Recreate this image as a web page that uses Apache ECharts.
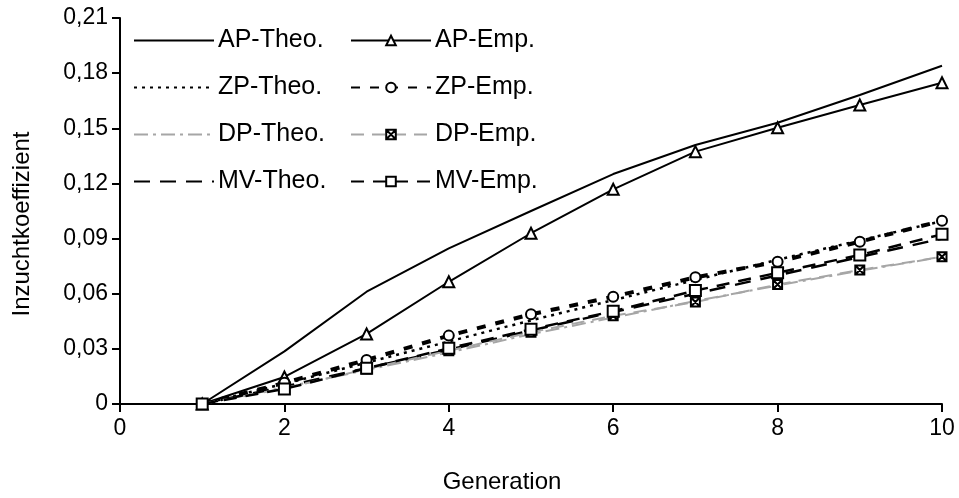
<!DOCTYPE html>
<html>
<head>
<meta charset="utf-8">
<script src="https://cdn.jsdelivr.net/npm/echarts@6/dist/echarts.min.js"></script>
<style>html,body{margin:0;padding:0;background:#fff;}#c{width:959px;height:498px;}</style>
</head>
<body>
<div id="c"></div>
<script>
const generations = [1, 2, 3, 4, 5, 6, 7, 8, 9, 10];
const apTheo = [0, 0.0286, 0.0611, 0.0847, 0.1050, 0.1251, 0.1409, 0.1530, 0.1681, 0.1840];
const apEmp  = [0, 0.0147, 0.0381, 0.0665, 0.0929, 0.1168, 0.1373, 0.1503, 0.1627, 0.1748];
const zpTheo = [0, 0.0110, 0.0225, 0.0340, 0.0455, 0.0565, 0.0675, 0.0785, 0.0890, 0.0995];
const zpEmp  = [0, 0.0115, 0.0240, 0.0372, 0.0488, 0.0584, 0.0689, 0.0774, 0.0883, 0.0997];
const dpTheo = [0, 0.0090, 0.0185, 0.0280, 0.0380, 0.0470, 0.0560, 0.0645, 0.0725, 0.0800];
const dpEmp  = [0, 0.0085, 0.0190, 0.0290, 0.0390, 0.0480, 0.0555, 0.0650, 0.0729, 0.0801];
const mvTheo = [0, 0.0095, 0.0195, 0.0295, 0.0400, 0.0500, 0.0600, 0.0700, 0.0800, 0.0900];
const mvEmp  = [0, 0.0082, 0.0194, 0.0303, 0.0406, 0.0505, 0.0617, 0.0714, 0.0811, 0.0923];
const xTicks = [0, 2, 4, 6, 8, 10];
const yTicks = ['0', '0,03', '0,06', '0,09', '0,12', '0,15', '0,18', '0,21'];
const xTitle = 'Generation';
const yTitle = 'Inzuchtkoeffizient';

const pairs = arr => generations.map((g, i) => [g, arr[i]]);
const FONT = 'Liberation Sans, Arial, sans-serif';
const GRAY = '#a6a6a6';
const crossBox = 'path://M0,0H10V10H0Z M0,0L10,10 M10,0L0,10';

function theo(name, data, color, type, width) {
  return { name, type: 'line', data: pairs(data), symbol: 'none', showSymbol: false,
    lineStyle: { color, type, width }, itemStyle: { color }, z: 2 };
}
function emp(name, data, color, type, width, symbol, size) {
  return { name, type: 'line', data: pairs(data), symbol, symbolSize: size,
    lineStyle: { color, type, width },
    itemStyle: { color: '#fff', borderColor: '#000', borderWidth: 2 }, z: 3 };
}

const series = [
  theo('AP-Theo.', apTheo, '#000', 'solid', 2),
  emp('AP-Emp.', apEmp, '#000', 'solid', 2, 'triangle', 11),
  theo('ZP-Theo.', zpTheo, '#000', [3, 5], 2.5),
  emp('ZP-Emp.', zpEmp, '#000', [9, 10], 4, 'circle', 10),
  theo('DP-Theo.', dpTheo, GRAY, [14, 5, 3, 5], 2),
  emp('DP-Emp.', dpEmp, GRAY, [13, 8], 2, crossBox, 9),
  theo('MV-Theo.', mvTheo, '#000', [16, 10], 2.5),
  emp('MV-Emp.', mvEmp, '#000', [13, 9], 2.5, 'rect', 11)
];

const rowsY = [42, 89, 136, 183];
const legends = series.map((s, i) => {
  const l = {
    data: [s.name],
    left: i % 2 === 0 ? 133 : 350,
    top: rowsY[Math.floor(i / 2)] - 14,
    padding: 0,
    itemWidth: 80,
    itemHeight: 12,
    itemGap: 4,
    textStyle: { fontFamily: FONT, fontSize: 25, color: '#000', padding: [0, 0, 0, -1] }
  };
  if (i % 2 === 0) l.itemStyle = { opacity: 0 };
  return l;
});

const chart = echarts.init(document.getElementById('c'), null, { renderer: 'canvas' });
chart.setOption({
  animation: false,
  backgroundColor: '#fff',
  grid: { left: 120, right: 17, top: 18, bottom: 94, containLabel: false },
  legend: legends,
  graphic: [
    { type: 'text', x: 502, y: 482, style: { text: xTitle, fontFamily: FONT, fontSize: 24, fill: '#000', align: 'center', verticalAlign: 'middle' }, z: 10 },
    { type: 'text', rotation: Math.PI / 2, x: 22, y: 224, style: { text: yTitle, fontFamily: FONT, fontSize: 24, fill: '#000', align: 'center', verticalAlign: 'middle' }, z: 10 }
  ],
  xAxis: {
    type: 'value', min: 0, max: 10, interval: 2,
    axisLine: { lineStyle: { color: '#000', width: 2 } },
    axisTick: { show: true, length: 8, lineStyle: { color: '#000', width: 2 } },
    axisLabel: { fontFamily: FONT, fontSize: 23, color: '#000', margin: 13,
      formatter: v => String(xTicks[xTicks.indexOf(v)]) },
    splitLine: { show: false }
  },
  yAxis: {
    type: 'value', min: 0, max: 0.21, interval: 0.03,
    axisLine: { show: true, lineStyle: { color: '#000', width: 2 } },
    axisTick: { show: true, length: 8, lineStyle: { color: '#000', width: 2 } },
    axisLabel: { fontFamily: FONT, fontSize: 23, color: '#000', margin: 12,
      formatter: v => yTicks[Math.round(v / 0.03)] },
    splitLine: { show: false }
  },
  series
});
</script>
</body>
</html>
